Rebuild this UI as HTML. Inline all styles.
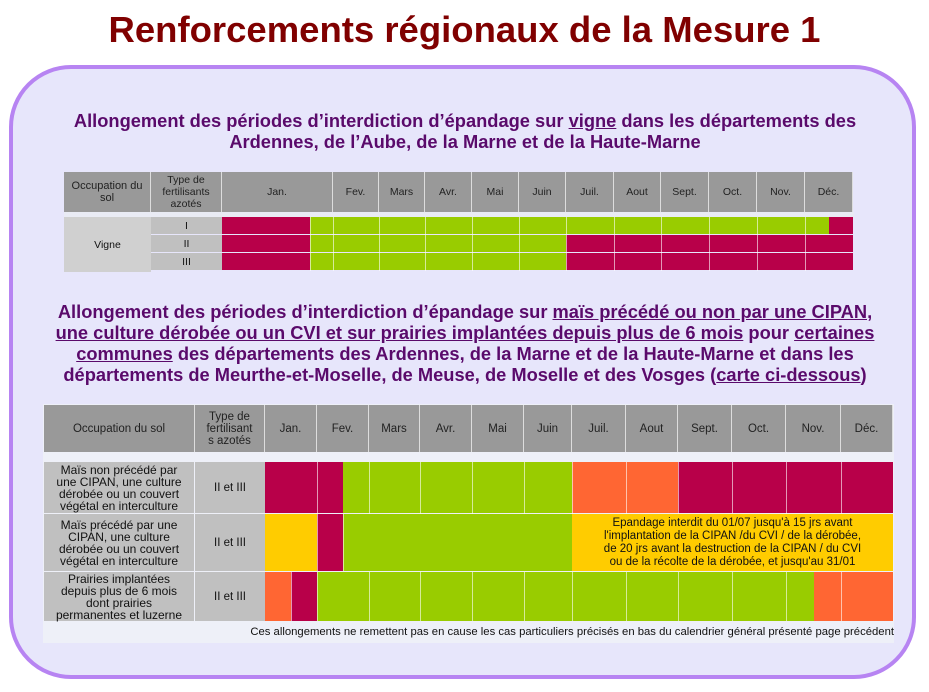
<!DOCTYPE html>
<html><head><meta charset="utf-8">
<style>
body{margin:0;width:929px;height:692px;background:#fff;position:relative;overflow:hidden;font-family:"Liberation Sans",sans-serif}
.abs{position:absolute}
#title{left:0;width:929px;top:9px;text-align:center;font-weight:bold;font-size:36.5px;color:#800000}
#box{left:9px;top:65px;width:899px;height:606px;border:4px solid #b784f2;border-radius:62px;background:#e7e6fb}
.sub{left:10px;width:910px;text-align:center;font-weight:bold;font-size:18.3px;color:#5a0a6b;line-height:21px}
.sub u{text-decoration:underline}
.cell{position:absolute;box-sizing:border-box;display:flex;align-items:center;justify-content:center;text-align:center;color:#111;font-size:10.5px}
.h{background:#999;color:#222;border-right:1px solid #ddd}
.g{background:#c0c0c0}
</style></head><body>
<div id="title" class="abs">Renforcements régionaux de la Mesure 1</div>
<div id="box" class="abs"></div>
<div class="abs sub" style="top:110px">Allongement des périodes d’interdiction d’épandage sur <u>vigne</u> dans les départements des<br>Ardennes, de l’Aube, de la Marne et de la Haute-Marne</div>
<div class="abs sub" style="top:301px">Allongement des périodes d’interdiction d’épandage sur <u>maïs précédé ou non par une CIPAN,<br>une culture dérobée ou un CVI et sur prairies implantées depuis plus de 6 mois</u> pour <u>certaines<br>communes</u> des départements des Ardennes, de la Marne et de la Haute-Marne et dans les<br>départements de Meurthe-et-Moselle, de Meuse, de Moselle et des Vosges (<u>carte ci-dessous</u>)</div>
<div id="t1"></div>
<div id="t2"></div>
<script>
const months=["Jan.","Fev.","Mars","Avr.","Mai","Juin","Juil.","Aout","Sept.","Oct.","Nov.","Déc."];
const t1Rows=["I","II","III"];
const t1Segs=[[[0,0.79,"R"],[0.79,11.5,"G"],[11.5,12,"R"]],
 [[0,0.79,"R"],[0.79,6,"G"],[6,12,"R"]],
 [[0,0.79,"R"],[0.79,6,"G"],[6,12,"R"]]];
const t2Labels=["Maïs non précédé par une CIPAN, une culture dérobée ou un couvert végétal en interculture","Maïs précédé par une CIPAN, une culture dérobée ou un couvert végétal en interculture","Prairies implantées depuis plus de 6 mois dont prairies permanentes et luzerne"];
const t2Types=["II et III","II et III","II et III"];
const t2Segs=[[[0,1.5,"R"],[1.5,6,"G"],[6,8,"O"],[8,12,"R"]],
 [[0,1,"Y"],[1,1.5,"R"],[1.5,6,"G"],[6,12,"Y"]],
 [[0,0.5,"O"],[0.5,1,"R"],[1,10.5,"G"],[10.5,12,"O"]]];
const COL={R:"#b80049",G:"#99cc00",O:"#ff6633",Y:"#ffcc00"};
const e1=[222,333,379,425,472,519,566,614,661,709,757,805,853];
const e2=[265,317,369,420,472,524,572,626,678,732,786,841,893];
function sx(edges,m){const i=Math.min(Math.floor(m),11);return edges[i]+(m-i)*(edges[i+1]-edges[i]);}
function cell(x,y,w,h,cls,txt,bg,fs){const d=document.createElement('div');d.className='cell '+(cls||'');
d.style.left=x+'px';d.style.top=y+'px';d.style.width=w+'px';d.style.height=h+'px';if(bg)d.style.background=bg;if(fs)d.style.fontSize=fs+'px';if(txt)d.innerHTML=txt;document.body.appendChild(d);return d;}
let d;
d=cell(64,172,87,40,'h','Occupation du<br>sol',null,11);
d=cell(151,172,71,40,'h','Type de<br>fertilisants<br>azotés');
months.forEach((m,i)=>{d=cell(e1[i],172,e1[i+1]-e1[i],40,'h',m);});
cell(64,212,790,5,'',null,'#e9ebf4');
d=cell(64,217,87,55,'g','Vigne','#d0d0d0');
t1Rows.forEach((r,k)=>{const y=217+k*18;
 d=cell(151,y,71,17,'g',r);
 t1Segs[k].forEach(s=>{const x0=sx(e1,s[0]),x1=sx(e1,s[1]);d=cell(x0,y,x1-x0,17,'',null,COL[s[2]]);
 });});
[310].concat(e1.slice(1,12)).forEach(x=>cell(x,217,1,54,'',null,'rgba(255,255,255,0.6)'));
cell(43,404,851,239,'',null,'#eef0f8');
d=cell(44,405,151,47,'h','Occupation du sol',null,11.5);
d=cell(195,405,70,47,'h','Type de<br>fertilisant<br>s azotés',null,11.5);
months.forEach((m,i)=>{d=cell(e2[i],405,e2[i+1]-e2[i],47,'h',m,null,11.5);});
const ry=[462,514,572],rh=[51,57,49];
t2Labels.forEach((l,k)=>{
 d=cell(44,ry[k],150,rh[k],'g',l,null,12);d.style.lineHeight='12px';d.style.padding='0 6px';
 d=cell(195,ry[k],70,rh[k],'g',t2Types[k],null,11.5);
 t2Segs[k].forEach(s=>{const x0=sx(e2,s[0]),x1=sx(e2,s[1]);d=cell(x0,ry[k],x1-x0,rh[k],'',null,COL[s[2]]);
 });
});
e2.slice(1,12).forEach(x=>{cell(x,462,1,52,'',null,'rgba(255,255,255,0.6)');cell(x,572,1,49,'',null,'rgba(255,255,255,0.6)');});
[317,343].forEach(x=>cell(x,514,1,57,'',null,'rgba(255,255,255,0.6)'));
cell(291,572,1,49,'',null,'rgba(255,255,255,0.6)');
d=cell(572,514,321,57,'',"Epandage interdit du 01/07 jusqu'à 15 jrs avant<br>l'implantation de la CIPAN /du CVI / de la dérobée,<br>de 20 jrs avant la destruction de la CIPAN / du CVI<br>ou de la récolte de la dérobée, et jusqu'au 31/01",null,11.5);
d.style.lineHeight='13px';d.style.whiteSpace='nowrap';
d=cell(44,622,850,20,'',"Ces allongements ne remettent pas en cause les cas particuliers précisés en bas du calendrier général présenté page précédent",null,11.3);
d.style.justifyContent='flex-end';d.style.whiteSpace='nowrap';
</script>
</body></html>
